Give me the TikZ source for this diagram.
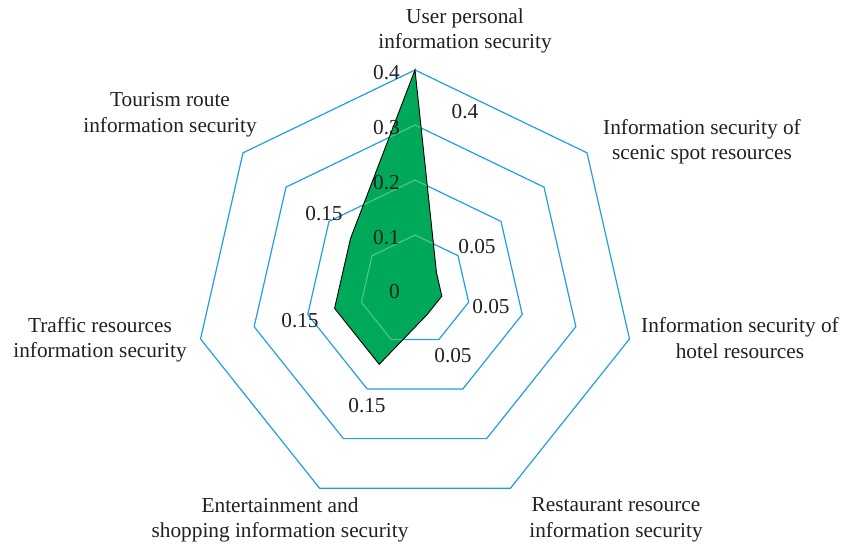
\documentclass[tikz,border=0pt]{standalone}
\usepackage{fontspec}
\setmainfont{Liberation Serif}
\usetikzlibrary{positioning,calc}
\definecolor{gridblue}{RGB}{32,160,222}
\definecolor{areagreen}{RGB}{0,168,89}
\definecolor{inkgray}{RGB}{35,31,32}

\begin{document}
\begin{tikzpicture}[x=1pt, y=1pt,
    font=\fontsize{21.3}{25.5}\selectfont,
    gridline/.style={draw=gridblue, line width=1.2pt, line join=miter},
    catlabel/.style={align=center, inner sep=0pt, text=inkgray},
    ticklabel/.style={left, inner sep=0pt, text=inkgray},
    vallabel/.style={inner sep=0pt, text=inkgray}]
    \useasboundingbox (0,0) rectangle (843,548);

    \begin{scope}[shift={(415,258)}]
        \coordinate (o) at (0,0);

        % Heptagon grid, one ring per 0.1
        \foreach \r in {55,110,165,220}
            \draw[gridline] (90:\r) \foreach \i in {1,...,6} { -- ({90-\i*360/7}:\r) } -- cycle;

        % Data points
        \foreach \v [count=\i] in {0.4,0.05,0.05,0.05,0.15,0.15,0.15}
            \coordinate (v\i) at ({90-(\i-1)*360/7}:{\v*550});

        \fill[areagreen] (v1) -- (v2) -- (v3) -- (v4) -- (v5) -- (v6) -- (v7) -- cycle;
        % faint rings seen through the area
        \begin{scope}
            \clip (v1) -- (v2) -- (v3) -- (v4) -- (v5) -- (v6) -- (v7) -- cycle;
            \foreach \r in {55,110,165}
                \draw[gridline, draw=white, draw opacity=0.3] (90:\r) \foreach \i in {1,...,6} { -- ({90-\i*360/7}:\r) } -- cycle;
        \end{scope}
        \draw[black, line width=0.9pt, line join=miter]
            (v1) -- (v2) -- (v3) -- (v4) -- (v5) -- (v6) -- (v7) -- cycle;

        % Axis ticks
        \node[ticklabel] (t0) at ([xshift=-15, yshift=-2]o) {0};
        \node[ticklabel] (t1) at ([xshift=-15, yshift=-3]90:55) {0.1};
        \node[ticklabel] (t2) at ([xshift=-15, yshift=-3]90:110) {0.2};
        \node[ticklabel] (t3) at ([xshift=-15, yshift=-3]90:165) {0.3};
        \node[ticklabel] (t4) at ([xshift=-15, yshift=-3]90:220) {0.4};
    \end{scope}

    % Value labels
    \node[vallabel] (l1) at (465,436) {0.4};
    \node[vallabel] (l2) at (477,301) {0.05};
    \node[vallabel] (l3) at (491,241) {0.05};
    \node[vallabel] (l4) at (453,192) {0.05};
    \node[vallabel] (l5) at (367,142) {0.15};
    \node[vallabel] (l6) at (300,227) {0.15};
    \node[vallabel] (l7) at (324,334) {0.15};

    % Category names
    \node[catlabel] (user) at (465,517) {User personal\\information security};
    \node[catlabel] (scenic) at (702,406) {Information security of\\scenic spot resources};
    \node[catlabel] (hotel) at (740,210) {Information security of\\hotel resources};
    \node[catlabel] (restaurant) at (616,28) {Restaurant resource\\information security};
    \node[catlabel] (leisure) at (280,28) {Entertainment and\\shopping information security};
    \node[catlabel] (traffic) at (100,208) {Traffic resources\\information security};
    \node[catlabel] (route) at (170,433) {Tourism route\\information security};
\end{tikzpicture}
\end{document}
